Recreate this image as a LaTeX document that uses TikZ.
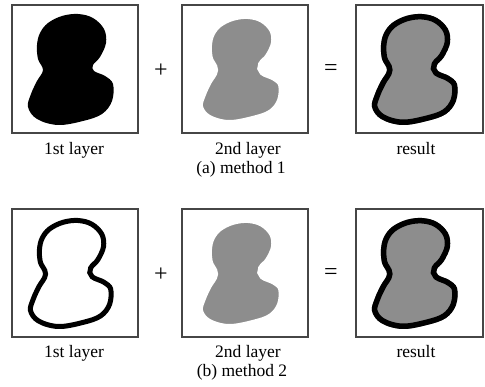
\documentclass[tikz,border=0pt]{standalone}
\usepackage{fontspec}
\setmainfont{Liberation Serif}
\definecolor{blobgray}{RGB}{141,141,141}
\definecolor{framecol}{RGB}{70,70,70}
\begin{document}
\begin{tikzpicture}[x=1pt,y=-1pt,
  frame/.style={draw=framecol,line width=1.1pt,minimum width=126pt,minimum height=128pt,inner sep=0pt,outer sep=0pt},
  lab/.style={font=\fontsize{17.5}{19}\selectfont,anchor=base,inner sep=0pt},
  op/.style={font=\fontsize{24}{26}\selectfont,inner sep=0pt},
  blob/.style={insert path={plot[smooth cycle,tension=0.6] coordinates {
    (66,9) (50,11) (36,18) (28,28) (25,40) (26,54) (31,65) (25,76) (19,89) (16,102)
    (25,114) (46,120) (71,116) (90,109) (100,96) (101,79) (93,71) (82,66)
    (81,60) (88,52) (94,38) (92,24) (81,13)}}}
]
\useasboundingbox (0,0) rectangle (485,387);

% ---------- method 1 ----------
\node[frame] (b1) at (75,69) {};
\node[frame] (b2) at (245,69) {};
\node[frame,minimum width=127pt] (b3) at (419.5,69) {};

\begin{scope}[shift={(b1.north west)}]
  \path[fill=black,blob];
\end{scope}
\begin{scope}[shift={(b2.north west)}]
  \path[fill=blobgray,draw=white,line width=10pt,blob];
\end{scope}
\begin{scope}[shift={(b3.north west)}]
  \begin{scope}
    \path[clip,blob];
    \path[fill=blobgray,draw=black,line width=11pt,blob];
  \end{scope}
\end{scope}

\node[op] (p1) at (161,71) {+};
\node[op] (e1) at (331,70) {=};

\node[lab] (t1) at (74,155) {1st layer};
\node[lab] (t2) at (248,155) {2nd layer};
\node[lab] (t3) at (241,174) {(a) method 1};
\node[lab] (t4) at (416,155) {result};

% ---------- method 2 ----------
\node[frame] (c1) at (75,273) {};
\node[frame] (c2) at (245,273) {};
\node[frame,minimum width=127pt] (c3) at (419.5,273) {};

\begin{scope}[shift={(c1.north west)}]
  \begin{scope}
    \path[clip,blob];
    \path[draw=black,line width=10pt,blob];
  \end{scope}
\end{scope}
\begin{scope}[shift={(c2.north west)}]
  \path[fill=blobgray,draw=white,line width=10pt,blob];
\end{scope}
\begin{scope}[shift={(c3.north west)}]
  \begin{scope}
    \path[clip,blob];
    \path[fill=blobgray,draw=black,line width=11pt,blob];
  \end{scope}
\end{scope}

\node[op] (p2) at (161,275) {+};
\node[op] (e2) at (331,274) {=};

\node[lab] (s1) at (74,358) {1st layer};
\node[lab] (s2) at (248,358) {2nd layer};
\node[lab] (s3) at (242,377) {(b) method 2};
\node[lab] (s4) at (416,358) {result};
\end{tikzpicture}
\end{document}
